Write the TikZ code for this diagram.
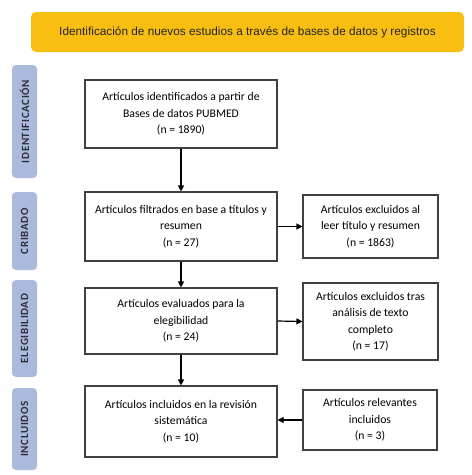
\documentclass[tikz,border=0pt]{standalone}
\usepackage{fontspec}
\setmainfont{Carlito}
\newfontfamily\arialf{Liberation Sans}
\newfontfamily\sidef[LetterSpace=6]{Carlito}
\usetikzlibrary{arrows.meta}
\definecolor{orangeband}{HTML}{F9BE12}
\definecolor{sidebl}{HTML}{AAB9DC}
\definecolor{boxline}{HTML}{404040}
\definecolor{sidetext}{HTML}{2F2F3A}
\begin{document}
\begin{tikzpicture}[x=1pt,y=-1pt,
  mainbox/.style={draw=boxline,line width=1.1pt,fill=white,align=center,inner sep=0pt,
    font=\fontsize{11.7}{16.5}\selectfont},
  sidebox/.style={fill=sidebl,rounded corners=4pt,inner sep=0pt},
  sidelabel/.style={rotate=90,font=\sidef\fontsize{11}{12}\selectfont\bfseries,text=sidetext},
  arr/.style={-{Triangle[length=6pt,width=6pt]},line width=1.2pt,black}]
\useasboundingbox (0,0) rectangle (472,475);
\fill[white] (0,0) rectangle (472,475);
% title band
\node[fill=orangeband,rounded corners=5pt,minimum width=433pt,minimum height=40pt,inner sep=0pt,
  font=\arialf\fontsize{11.8}{13}\selectfont,text=black!85] (title) at (247.5,32) {Identificación de nuevos estudios a través de bases de datos y registros};
% side labels
\node[sidebox,minimum width=25pt,minimum height=113pt] (s1) at (24.5,121.5) {};
\node[sidelabel] (t1) at (s1.center) {IDENTIFICACIÓN};
\node[sidebox,minimum width=25pt,minimum height=78pt] (s2) at (24.5,231) {};
\node[sidelabel] (t2) at (s2.center) {CRIBADO};
\node[sidebox,minimum width=25pt,minimum height=97pt] (s3) at (24.5,328.5) {};
\node[sidelabel] (t3) at (s3.center) {ELEGIBILIDAD};
\node[sidebox,minimum width=25pt,minimum height=82pt] (s4) at (24.5,429) {};
\node[sidelabel] (t4) at (s4.center) {INCLUIDOS};
% main boxes
\node[mainbox,minimum width=192pt,minimum height=68pt] (b1) at (181,114) {Artículos identificados a partir de\\Bases de datos PUBMED\\(n = 1890)};
\node[mainbox,minimum width=192pt,minimum height=69pt] (b2) at (181,226.5) {Artículos filtrados en base a títulos y\\resumen\\(n = 27)};
\node[mainbox,minimum width=192pt,minimum height=66pt] (b3) at (181,321) {Artículos evaluados para la\\elegibilidad\\(n = 24)};
\node[mainbox,minimum width=192pt,minimum height=71pt] (b4) at (181,421.5) {Artículos incluidos en la revisión\\sistemática\\(n = 10)};
% right boxes
\node[mainbox,minimum width=135pt,minimum height=63pt] (r1) at (370.5,226.5) {Artículos excluidos al\\leer título y resumen\\(n = 1863)};
\node[mainbox,minimum width=135pt,minimum height=77pt] (r2) at (370.5,321.5) {Artículos excluidos tras\\análisis de texto\\completo\\(n = 17)};
\node[mainbox,minimum width=134pt,minimum height=60pt] (r3) at (370,420) {Artículos relevantes\\incluidos\\(n = 3)};
% arrows
\draw[arr] (b1.south) -- (b2.north);
\draw[arr] (b2.south) -- (b3.north);
\draw[arr] (b3.south) -- (b4.north);
\draw[arr] (b2.east) -- (r1.west);
\draw[arr] (b3.east) -- (r2.west);
\draw[arr] (r3.west) -- (b4.east|-r3.west);
\end{tikzpicture}
\end{document}
